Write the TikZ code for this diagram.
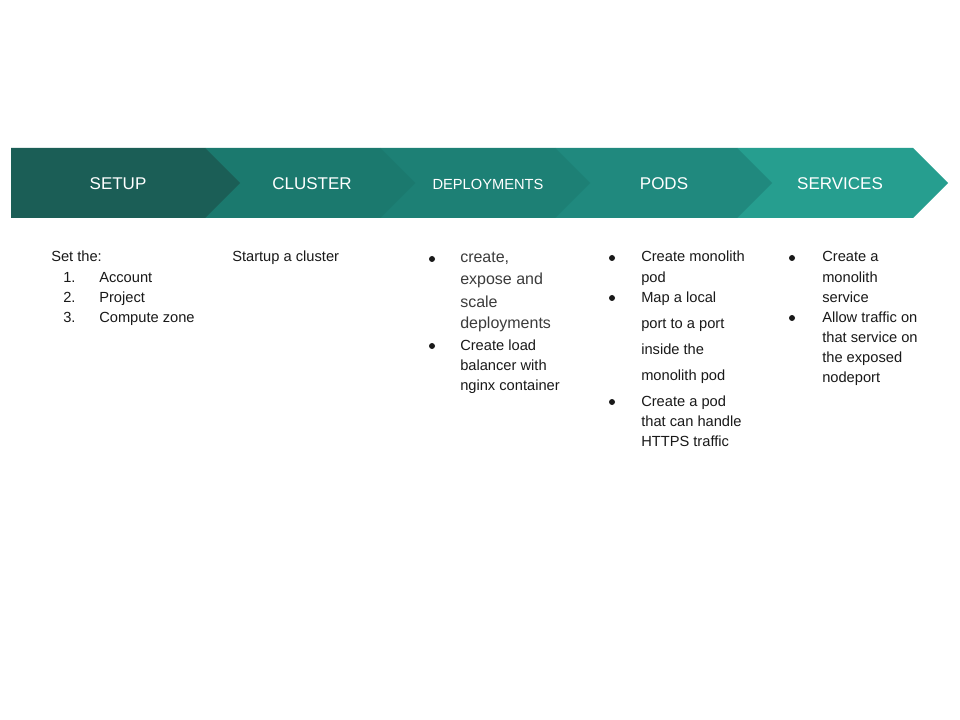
\documentclass[tikz,border=0pt]{standalone}
\usepackage{fontspec}
\setmainfont{Liberation Sans}
\usepackage{tikz}

\definecolor{setupcol}{RGB}{27,94,86}
\definecolor{clustercol}{RGB}{27,121,110}
\definecolor{deploycol}{RGB}{29,128,117}
\definecolor{podscol}{RGB}{32,137,126}
\definecolor{servicecol}{RGB}{38,158,143}
\definecolor{bodytext}{RGB}{25,25,25}
\definecolor{softtext}{RGB}{60,60,60}

\begin{document}
\begin{tikzpicture}[
            x=0.75pt, y=-0.75pt,
            head/.style={text=white, font=\fontsize{12.75}{14}\selectfont},
            smallhead/.style={text=white, font=\fontsize{11}{13}\selectfont},
            line/.style={anchor=base west, inner sep=0pt, text=bodytext, font=\fontsize{11}{13}\selectfont},
            softline/.style={line, text=softtext, font=\fontsize{12}{14}\selectfont},
            dot/.style={circle, fill=bodytext, inner sep=0pt, minimum size=4.5pt}
        ]
            \useasboundingbox (0,0) rectangle (960,720);
            \fill[white] (0,0) rectangle (960,720);

            % chevrons, drawn right to left so every tip lies on top
            \foreach \xa/\xb/\col in {737/913/servicecol, 555/737/podscol, 380/555/deploycol, 205/380/clustercol, 11/205/setupcol}
                \fill[\col] (\xa,148) -- (\xb,148) -- (\xb+35,183) -- (\xb,218) -- (\xa,218) -- cycle;

            \node[head] (setup) at (118,184) {SETUP};
            \node[head] (cluster) at (312,184) {CLUSTER};
            \node[smallhead] (deploy) at (488,184) {DEPLOYMENTS};
            \node[head] (pods) at (664,184) {PODS};
            \node[head] (services) at (840,184) {SERVICES};

            % setup
            \node[line] (setthe) at (51,262) {Set the:};
            \node[line] (n1) at (63,282) {1.};
            \node[line] (n2) at (63,302) {2.};
            \node[line] (n3) at (63,322) {3.};
            \node[line] (account) at (99,282) {Account};
            \node[line] (project) at (99,302) {Project};
            \node[line] (zone) at (99,322) {Compute zone};

            % cluster
            \node[line] (startup) at (232,262) {Startup a cluster};

            % deployments
            \node[dot] (db1) at (432,259) {};
            \node[softline] (d1) at (460,263) {create,};
            \node[softline] (d2) at (460,285) {expose and};
            \node[softline] (d3) at (460,307) {scale};
            \node[softline] (d4) at (460,329) {deployments};
            \node[dot] (db2) at (432,346) {};
            \node[line] (d5) at (460,350) {Create load};
            \node[line] (d6) at (460,370) {balancer with};
            \node[line] (d7) at (460,390) {nginx container};

            % pods
            \node[dot] (pb1) at (612,258) {};
            \node[line] (p1) at (641,262) {Create monolith};
            \node[line] (p2) at (641,282) {pod};
            \node[dot] (pb2) at (612,298) {};
            \node[line] (p3) at (641,302) {Map a local};
            \node[line] (p4) at (641,328) {port to a port};
            \node[line] (p5) at (641,354) {inside the};
            \node[line] (p6) at (641,380) {monolith pod};
            \node[dot] (pb3) at (612,402) {};
            \node[line] (p7) at (641,406) {Create a pod};
            \node[line] (p8) at (641,426) {that can handle};
            \node[line] (p9) at (641,446) {HTTPS traffic};

            % services
            \node[dot] (sb1) at (792,258) {};
            \node[line] (s1) at (822,262) {Create a};
            \node[line] (s2) at (822,282) {monolith};
            \node[line] (s3) at (822,302) {service};
            \node[dot] (sb2) at (792,318) {};
            \node[line] (s4) at (822,322) {Allow traffic on};
            \node[line] (s5) at (822,342) {that service on};
            \node[line] (s6) at (822,362) {the exposed};
            \node[line] (s7) at (822,382) {nodeport};
        \end{tikzpicture}
\end{document}
